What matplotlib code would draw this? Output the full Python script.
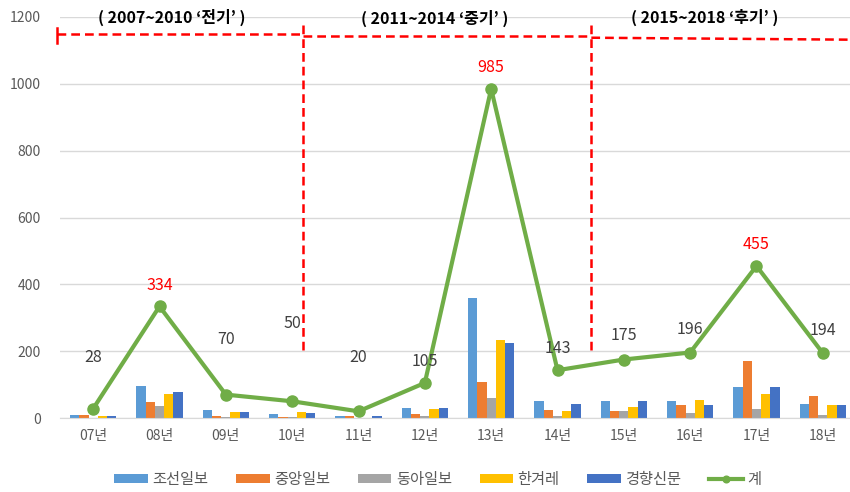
import matplotlib
matplotlib.use("Agg")
import matplotlib.pyplot as plt
import numpy as np

plt.rcParams['font.family'] = ['Noto Sans CJK KR', 'DejaVu Sans']

# 데이터
years = ['07년', '08년', '09년', '10년', '11년', '12년', '13년', '14년', '15년', '16년', '17년', '18년']
chosun = [9, 97, 25, 12, 7, 30, 360, 50, 50, 50, 93, 42]
joongang = [9, 49, 6, 4, 7, 13, 108, 25, 21, 38, 170, 67]
donga = [0, 37, 3, 2, 0, 5, 60, 5, 21, 16, 28, 9]
hankyoreh = [5, 73, 18, 18, 0, 27, 234, 22, 33, 54, 72, 38]
kyunghyang = [5, 78, 18, 14, 6, 30, 223, 41, 50, 38, 92, 38]
total = [28, 334, 70, 50, 20, 105, 985, 143, 175, 196, 455, 194]
red_labels = [334, 985, 455]
# 라벨 위치 (픽셀 단위, 점 위로)
label_dy = [51, 21, 55, 78, 54, 21, 21, 22, 24, 23, 21, 23]

series = [('조선일보', chosun, '#5B9BD5'),
          ('중앙일보', joongang, '#ED7D31'),
          ('동아일보', donga, '#A5A5A5'),
          ('한겨레', hankyoreh, '#FFC000'),
          ('경향신문', kyunghyang, '#4472C4')]

fig = plt.figure(figsize=(8.5, 4.92), dpi=100)
ax = fig.add_axes([60 / 850, 74 / 492, 796 / 850, 401 / 492])

x = np.arange(len(years))
w = 0.14
for i, (name, vals, col) in enumerate(series):
    ax.bar(x + (i - 2) * w, vals, width=w, color=col, label=name, zorder=2)

ax.plot(x, total, color='#70AD47', lw=3, marker='o', markersize=8, label='계', zorder=3)

for xi, v, dy in zip(x, total, label_dy):
    c = 'red' if v in red_labels else '#404040'
    ax.annotate(str(v), (xi, v), xytext=(0, dy * 0.72), textcoords='offset points',
                ha='center', va='center', fontsize=11.5, color=c, zorder=4)

ax.set_xlim(-0.5, 11.5)
ax.set_ylim(0, 1200)
ax.set_yticks(range(0, 1201, 200))
ax.set_xticks(x)
ax.set_xticklabels(years)
ax.tick_params(axis='both', length=0, colors='#595959', labelsize=10)
ax.tick_params(axis='x', pad=8)
ax.tick_params(axis='y', pad=14)
ax.grid(axis='y', color='#D9D9D9', lw=1, zorder=0)
ax.set_axisbelow(True)
for s in ['top', 'right', 'left']:
    ax.spines[s].set_visible(False)
ax.spines['bottom'].set_color('#D9D9D9')

# 기간 구분선
red_kw = dict(color='red', lw=1.8, linestyle=(0, (3.5, 2)), clip_on=False, zorder=5)
ax.plot([-0.54, -0.54], [1123, 1168], color='red', lw=1.8, clip_on=False)
ax.plot([-0.54, 3.16], [1150, 1150], **red_kw)
ax.plot([3.16, 3.16], [1177, 198], **red_kw)
ax.plot([3.16, 7.51], [1144, 1144], **red_kw)
ax.plot([7.51, 7.51], [1177, 192], **red_kw)
ax.plot([7.51, 11.5], [1138, 1132], **red_kw)

ax.text(1.19, 1200, "( 2007~2010 ‘전기’ )", ha='center', va='center', fontsize=11.5, fontweight='bold')
ax.text(5.15, 1195, "( 2011~2014 ‘중기’ )", ha='center', va='center', fontsize=11.5, fontweight='bold')
ax.text(9.22, 1200, "( 2015~2018 ‘후기’ )", ha='center', va='center', fontsize=11.5, fontweight='bold')

handles, labels = ax.get_legend_handles_labels()
order = [1, 2, 3, 4, 5, 0]
leg = fig.legend([handles[i] for i in order], [labels[i] for i in order],
                 loc='center', bbox_to_anchor=(0.515, 0.025), ncol=6, frameon=False,
                 fontsize=11, handlelength=2.2, handleheight=0.5, columnspacing=1.8,
                 handletextpad=0.3, markerscale=0.6)
for t in leg.get_texts():
    t.set_color('#595959')

fig.savefig('out.png', dpi=100)
